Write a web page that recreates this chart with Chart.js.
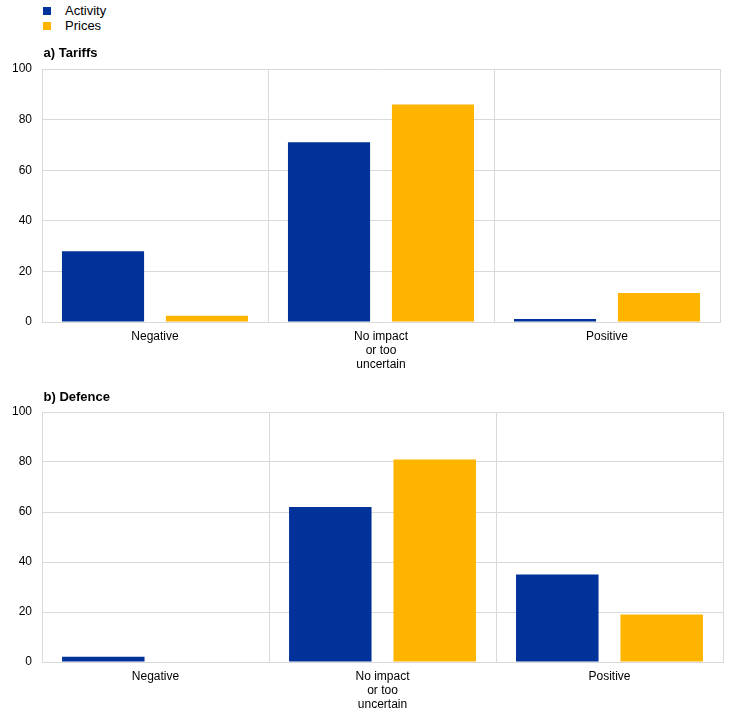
<!DOCTYPE html>
<html>
<head>
<meta charset="utf-8">
<script src="https://cdn.jsdelivr.net/npm/chart.js@4.4.1/dist/chart.umd.min.js"></script>
<style>
  html, body { margin: 0; padding: 0; background: #fff; width: 744px; height: 717px; overflow: hidden; }
  #wrap { position: relative; width: 744px; height: 717px; font-family: "Liberation Sans", Arial, sans-serif; }
  canvas { position: absolute; left: 0; }
  .lg { position: absolute; left: 43px; font-size: 13px; color: #000; }
  .lg span.sw { position: absolute; left: 0; width: 8px; height: 8px; }
  .lg span.tx { position: absolute; left: 22px; white-space: nowrap; line-height: 15px; }
</style>
</head>
<body>
<div id="wrap">
  <div class="lg" style="top:7px"><span class="sw" style="top:0;background:#003299"></span><span class="tx" style="top:-4px">Activity</span></div>
  <div class="lg" style="top:22px"><span class="sw" style="top:0;background:#FFB400"></span><span class="tx" style="top:-4px">Prices</span></div>
  <canvas id="c1" width="744" height="377" style="top:0"></canvas>
  <canvas id="c2" width="744" height="340" style="top:377px"></canvas>
</div>
<script>
const categories = ['Negative', ['No impact', 'or too', 'uncertain'], 'Positive'];
const seriesNames = ['Activity', 'Prices'];
const tariffsActivity = [28, 71, 1.2];
const tariffsPrices = [2.5, 86, 11.5];
const defenceActivity = [2.1, 62, 35];
const defencePrices = [0, 81, 19];
const yTicks = [0, 20, 40, 60, 80, 100];

const COLORS = ['#003299', '#FFB400'];
const GRID = '#d9d9d9';
const FONT = "'Liberation Sans', Arial, sans-serif";

const panelTitle = {
  id: 'panelTitle',
  afterDraw(chart, args, opts) {
    const ctx = chart.ctx;
    ctx.save();
    ctx.font = 'bold 13px ' + FONT;
    ctx.fillStyle = '#000';
    ctx.textAlign = 'left';
    ctx.textBaseline = 'middle';
    ctx.fillText(opts.text, chart.chartArea.left + 1.5, chart.chartArea.top - opts.gap);
    ctx.restore();
  }
};

function makeChart(id, title, act, pri, padTop, padRight, gap) {
  return new Chart(document.getElementById(id), {
    type: 'bar',
    data: {
      labels: categories,
      datasets: [
        { label: seriesNames[0], data: act, backgroundColor: COLORS[0] },
        { label: seriesNames[1], data: pri, backgroundColor: COLORS[1] }
      ]
    },
    plugins: [panelTitle],
    options: {
      responsive: false,
      animation: false,
      categoryPercentage: 0.92,
      barPercentage: 0.79,
      layout: { padding: { top: padTop, right: padRight, left: 0, bottom: 0 } },
      plugins: {
        legend: { display: false },
        tooltip: { enabled: false },
        panelTitle: { text: title, gap: gap }
      },
      scales: {
        x: {
          grid: { color: GRID, lineWidth: 1, drawTicks: false, offset: true },
          border: { color: GRID },
          ticks: { color: '#000', padding: 8, maxRotation: 0, autoSkip: false,
                   font: { family: FONT, size: 12, lineHeight: 1.17 } },
          afterFit(s) { s.height = 55; }
        },
        y: {
          min: 0, max: 100,
          afterBuildTicks(s) { s.ticks = yTicks.map(v => ({ value: v })); },
          grid: { color: GRID, lineWidth: 1, drawTicks: false },
          border: { color: GRID },
          ticks: { color: '#000', padding: 10, font: { family: FONT, size: 12 } },
          afterFit(s) { s.width = 42; }
        }
      }
    }
  });
}

makeChart('c1', 'a) Tariffs', tariffsActivity, tariffsPrices, 69, 24, 16);
makeChart('c2', 'b) Defence', defenceActivity, defencePrices, 35, 21, 15);
</script>
</body>
</html>
